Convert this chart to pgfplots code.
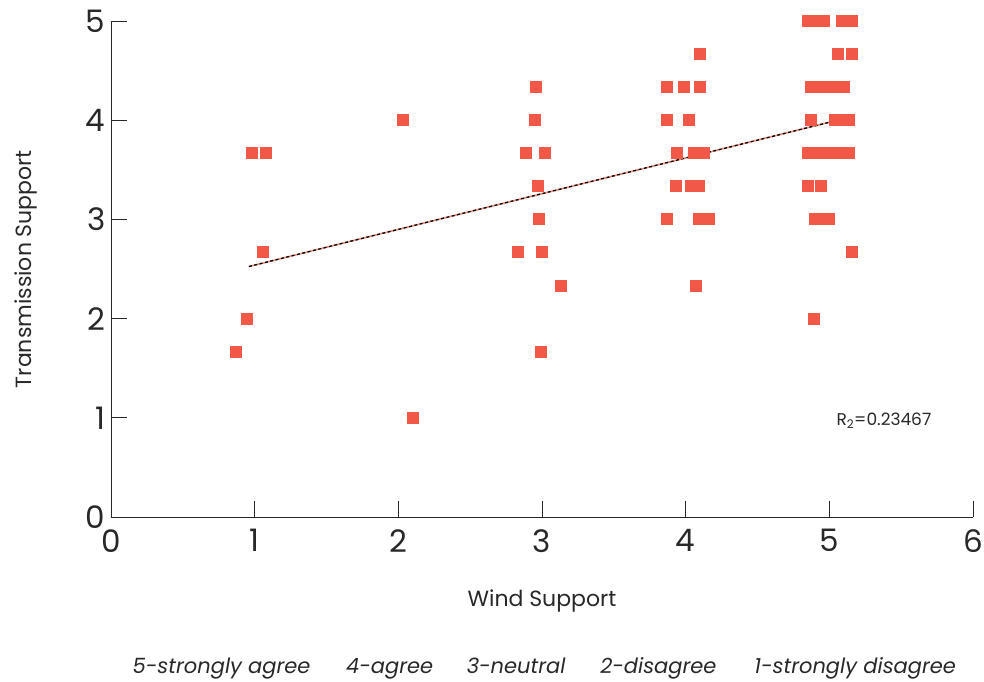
\documentclass[border=0pt]{standalone}
\usepackage{pgfplots}
\pgfplotsset{compat=1.18}
\usepackage{fontspec}
\setmainfont{Poppins}
\definecolor{pt}{RGB}{242,88,72}
\definecolor{txt}{RGB}{40,40,40}
\definecolor{trend}{RGB}{240,140,125}
\tikzset{bl/.style={font=\itshape\fontsize{21}{24}\selectfont, color=txt, anchor=base, inner sep=0pt}}
\begin{document}
\begin{tikzpicture}
\begin{axis}[
  at={(0,0)}, anchor=south west,
  scale only axis, width=862pt, height=496pt,
  xmin=0, xmax=6, ymin=0, ymax=5,
  axis x line*=bottom, axis y line*=left,
  axis line style={-, line width=0.9pt, color=txt},
  tick style={line width=0.9pt, color=txt},
  tick align=inside, major tick length=16pt,
  xtick={0,1,2,3,4,5,6}, ytick={0,1,2,3,4,5},
  /pgf/number format/assume math mode=true,
  ticklabel style={font=\fontsize{31}{34}\selectfont, color=txt},
  xticklabel style={yshift=-9pt},
  yticklabel style={xshift=-2pt},
  xlabel={Wind Support}, ylabel={Transmission Support},
  label style={font=\fontsize{22}{25}\selectfont, color=txt},
  xlabel style={yshift=-30pt},
  ylabel style={yshift=42pt},
  clip=false,
]
\addplot[only marks, mark=square*, mark size=5.5pt, color=pt, mark options={draw=pt, fill=pt, line width=0pt}] coordinates {
(0.87,1.667) (0.95,2.0) (0.98,3.667) (1.08,3.667) (1.06,2.667)
(2.03,4.0) (2.10,1.0)
(2.96,4.333) (2.95,4.0) (2.89,3.667) (3.02,3.667) (2.97,3.333) (2.98,3.0) (2.83,2.667) (3.00,2.667) (3.13,2.333) (2.99,1.667)
(4.10,4.667) (3.87,4.333) (3.99,4.333) (4.10,4.333) (3.87,4.0) (4.02,4.0) (3.94,3.667) (4.06,3.667) (4.13,3.667) (3.93,3.333) (4.04,3.333) (4.09,3.333) (3.87,3.0) (4.09,3.0) (4.16,3.0) (4.07,2.333)
(4.85,5.0) (4.91,5.0) (4.96,5.0) (5.09,5.0) (5.16,5.0)
(5.06,4.667) (5.16,4.667)
(4.87,4.333) (4.93,4.333) (4.98,4.333) (5.04,4.333) (5.10,4.333)
(4.87,4.0) (5.04,4.0) (5.09,4.0) (5.14,4.0)
(4.85,3.667) (4.91,3.667) (4.96,3.667) (5.02,3.667) (5.08,3.667) (5.14,3.667)
(4.85,3.333) (4.94,3.333)
(4.90,3.0) (4.95,3.0) (5.00,3.0)
(5.16,2.667)
(4.89,2.0)
};
\addplot[trend, line width=1.6pt] coordinates {(0.96,2.525) (5.03,3.99)};
\addplot[black, line width=1.3pt, dash pattern=on 3pt off 2.5pt] coordinates {(0.96,2.525) (5.03,3.99)};
\node[font=\fontsize{17}{19}\selectfont, color=txt] at (axis cs:5.38,0.97) {R\textsubscript{2}=0.23467};
\node[bl] at (axis cs:0.77,-1.58) {5-strongly agree};
\node[bl] at (axis cs:1.94,-1.58) {4-agree};
\node[bl] at (axis cs:2.82,-1.58) {3-neutral};
\node[bl] at (axis cs:3.81,-1.58) {2-disagree};
\node[bl] at (axis cs:5.18,-1.58) {1-strongly disagree};
\end{axis}
\pgfresetboundingbox
\useasboundingbox (-111pt,-164pt) rectangle (873pt,517pt);
\end{tikzpicture}
\end{document}
